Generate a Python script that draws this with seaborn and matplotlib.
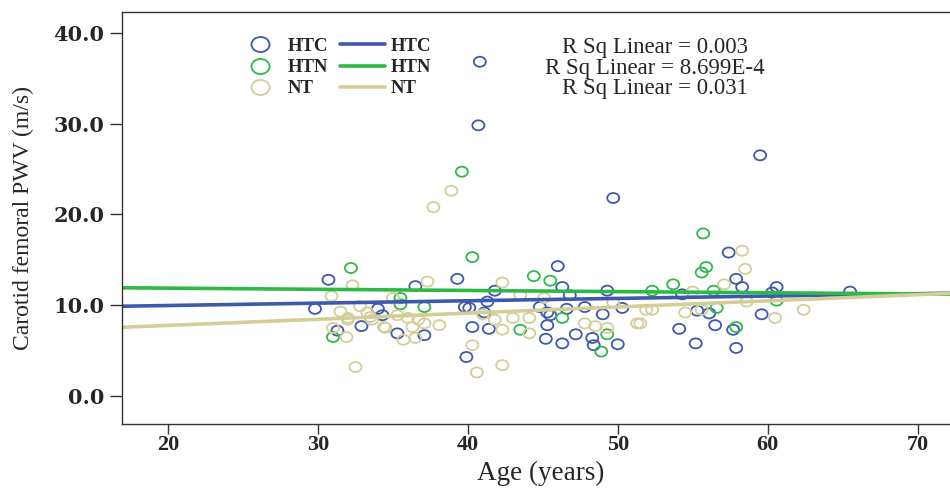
import numpy as np
import pandas as pd
import seaborn as sns
import matplotlib.pyplot as plt
import matplotlib.transforms as mtransforms
from matplotlib.path import Path
from matplotlib.lines import Line2D

sns.set_style("white")

# data (age in years, PWV in m/s)
htc_age = [40.8, 40.7, 49.7, 59.5, 30.7, 39.3, 36.5, 46.0, 29.8, 34.0, 34.3, 31.3,
           32.9, 35.3, 37.1, 39.8, 40.1, 40.3, 39.9, 41.8, 41.3, 41.1, 41.4, 46.3,
           46.8, 44.8, 45.3, 45.5, 46.6, 47.8, 45.3, 45.2, 46.3, 47.2, 48.3, 48.4,
           50.0, 49.3, 49.0, 50.3, 57.4, 57.9, 58.3, 60.6, 54.3, 60.3, 55.3, 56.1,
           56.5, 54.1, 57.7, 59.6, 55.2, 57.9, 65.5]
htc_pwv = [36.8, 29.8, 21.8, 26.5, 12.8, 12.9, 12.1, 14.3, 9.6, 9.6, 8.9, 7.2,
           7.7, 6.9, 6.7, 9.8, 9.7, 7.6, 4.3, 11.6, 10.4, 9.2, 7.4, 12.0,
           11.1, 9.8, 9.2, 8.9, 9.6, 9.8, 7.8, 6.3, 5.8, 6.8, 6.4, 5.6,
           5.7, 11.6, 9.0, 9.7, 15.8, 12.9, 12.0, 12.0, 11.2, 11.4, 9.4, 9.1,
           7.8, 7.4, 7.3, 9.0, 5.8, 5.3, 11.5]

htn_age = [39.6, 40.3, 32.2, 35.5, 35.5, 37.1, 31.0, 44.4, 45.5, 46.3, 43.5, 49.3,
           48.9, 55.7, 55.9, 55.6, 53.7, 52.3, 56.4, 56.6, 57.9, 60.6]
htn_pwv = [24.7, 15.3, 14.1, 10.8, 10.1, 9.8, 6.5, 13.2, 12.7, 8.6, 7.3, 6.8,
           4.9, 17.9, 14.2, 13.6, 12.3, 11.6, 11.6, 9.7, 7.6, 10.5]

nt_age = [37.7, 38.9, 37.3, 32.3, 30.9, 32.8, 31.5, 32.0, 33.5, 34.5, 35.7, 36.5,
          35.0, 32.5, 40.3, 40.6, 32.0, 31.0, 31.9, 33.3, 33.6, 34.4, 36.0, 36.3,
          36.7, 37.1, 38.1, 35.3, 42.3, 41.8, 42.3, 43.0, 44.1, 44.1, 42.3, 47.8,
          49.3, 51.3, 43.5, 45.1, 49.7, 58.3, 58.5, 57.1, 55.0, 54.5, 55.6, 51.9,
          52.3, 51.5, 60.5, 62.4, 58.6, 41.0, 48.5]
nt_pwv = [20.8, 22.6, 12.6, 12.2, 11.0, 9.9, 9.3, 8.6, 8.7, 7.5, 6.2, 6.4,
          10.8, 3.2, 5.6, 2.6, 8.4, 7.5, 6.5, 9.2, 8.4, 7.6, 8.6, 7.6,
          8.4, 8.0, 7.8, 8.9, 12.5, 8.4, 7.3, 8.6, 8.6, 6.9, 3.4, 8.0,
          7.5, 8.0, 11.1, 10.8, 10.3, 16.0, 14.0, 12.3, 11.5, 9.2, 9.5, 9.5,
          9.5, 8.0, 8.6, 9.5, 10.4, 9.0, 7.7]

r2_labels = ["R Sq Linear = 0.003", "R Sq Linear = 8.699E-4", "R Sq Linear = 0.031"]

groups = ["HTC", "HTN", "NT"]
colors = {"HTC": "#3E58AC", "HTN": "#2EB848", "NT": "#D3CE97"}

df = pd.concat([
    pd.DataFrame({"age": htc_age, "pwv": htc_pwv, "group": "HTC"}),
    pd.DataFrame({"age": htn_age, "pwv": htn_pwv, "group": "HTN"}),
    pd.DataFrame({"age": nt_age, "pwv": nt_pwv, "group": "NT"}),
])

# slightly wide open circle, like the stretched original
ell = Path.unit_circle().transformed(mtransforms.Affine2D().scale(1.2, 1.0))

fig = plt.figure(figsize=(9.5, 4.91), dpi=100)
ax = fig.add_axes([0.128, 0.136, 0.882, 0.840])
ax.set_xlim(16.9, 72.8)
ax.set_ylim(-3.1, 42.3)

for g in groups:
    sub = df[df["group"] == g]
    sns.scatterplot(data=sub, x="age", y="pwv", ax=ax, marker=ell, s=75,
                    facecolor="none", edgecolor=colors[g], linewidth=1.3, legend=False)
for g in groups:
    sub = df[df["group"] == g]
    sns.regplot(data=sub, x="age", y="pwv", ax=ax, scatter=False, ci=None,
                truncate=False, color=colors[g], line_kws={"lw": 2.6})
ax.set_xlim(16.9, 72.8)

ax.spines["right"].set_visible(False)
for s in ["left", "bottom", "top"]:
    ax.spines[s].set_color("#333333")
    ax.spines[s].set_linewidth(1.0)

ax.set_xticks([20, 30, 40, 50, 60, 70])
ax.set_yticks([0, 10, 20, 30, 40])
ax.set_yticklabels(["0.0", "10.0", "20.0", "30.0", "40.0"])
ax.tick_params(axis="both", direction="out", length=9, width=1, color="#333333",
               left=True, bottom=True)
ax.tick_params(axis="x", length=7, pad=1)
for lab in ax.get_xticklabels():
    lab.set_fontfamily("Liberation Serif")
    lab.set_fontweight("bold")
    lab.set_fontsize(16)
for lab in ax.get_yticklabels():
    lab.set_fontfamily("DejaVu Serif")
    lab.set_fontweight("bold")
    lab.set_fontsize(15)

ax.set_xlabel("Age (years)", fontfamily="Liberation Serif", fontsize=19.5)
ax.set_ylabel("Carotid femoral PWV (m/s)", fontfamily="Liberation Serif", fontsize=17)
ax.xaxis.set_label_coords(0.5, -0.088)
ax.yaxis.set_label_coords(-0.104, 0.5)

handles = [Line2D([], [], ls="none", marker=ell, markersize=13, markerfacecolor="none",
                  markeredgecolor=colors[g], markeredgewidth=1.3) for g in groups]
handles += [Line2D([], [], color=colors[g], lw=2.6) for g in groups]
leg = ax.legend(handles=handles, labels=groups + groups, ncol=2, frameon=False,
                loc="upper left", bbox_to_anchor=(0.118, 0.978), handlelength=2.4,
                handletextpad=0.3, columnspacing=0.6, labelspacing=0.22,
                prop={"family": "Liberation Serif", "weight": "bold", "size": 13.5})

for i, t in enumerate(r2_labels):
    ax.text(0.636, 0.913 - i * 0.05, t, transform=ax.transAxes, ha="center", va="center",
            fontfamily="Liberation Serif", fontsize=16.5)

fig.savefig("out.png", dpi=100)
